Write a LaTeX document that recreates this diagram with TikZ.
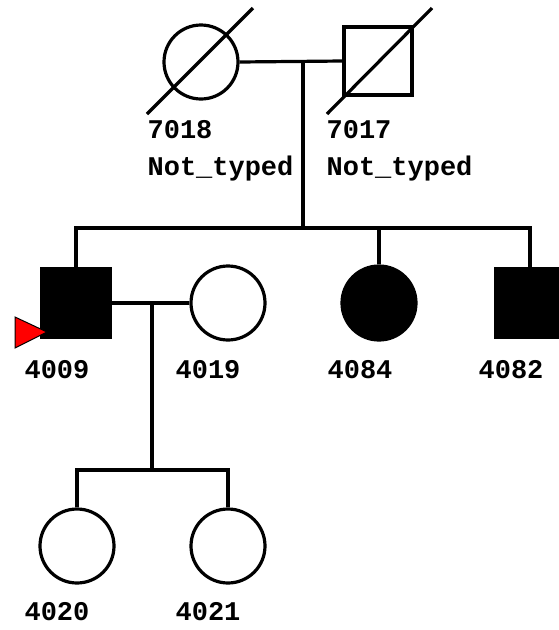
\documentclass[tikz,border=0pt]{standalone}
\usepackage{fontspec}
\setmonofont{Liberation Mono}
\begin{document}
\begin{tikzpicture}[x=1pt,y=-1pt,line width=3.2pt,
  female/.style={circle,draw=black,minimum size=74pt,inner sep=0pt},
  male/.style={rectangle,draw=black,minimum size=68pt,inner sep=0pt},
  affected/.style={fill=black},
  lbl/.style={anchor=base west,inner sep=0pt,font=\fontsize{27}{30}\selectfont\ttfamily\bfseries}]
\useasboundingbox (0,0) rectangle (559,630);
\clip (0,0) rectangle (559,630);
% generation I
\node[female] (n7018) at (201,62) {};
\node[male] (n7017) at (378,61) {};
\draw (147,114) -- (253,8);
\draw (327,114) -- (432,8);
\draw (n7018.east) -- (n7017.west);
\coordinate (m1) at (303,62);
\coordinate (s1) at (303,228);
\draw (m1) -- (s1);
% generation II
\node[male,affected] (n4009) at (76,303) {};
\node[female] (n4019) at (228,303) {};
\node[female,affected] (n4084) at (379,303) {};
\node[male,affected] (n4082) at (530,303) {};
\draw[miter limit=10] (n4009.north) -- (n4009.north |- s1) -- (n4082.north |- s1) -- (n4082.north);
\draw (n4084.north) -- (n4084.north |- s1);
\draw (n4009.east) -- (n4019.west);
% proband arrow
\draw[line width=1pt,fill=red] (15,317) -- (47,332) -- (15,348) -- cycle;
% generation III
\coordinate (m2) at (152,303);
\coordinate (s2) at (152,470);
\draw (m2) -- (s2);
\node[female] (n4020) at (77,546) {};
\node[female] (n4021) at (228,546) {};
\draw (n4020.north) -- (n4020.north |- s2) -- (n4021.north |- s2) -- (n4021.north);
% labels
\node[lbl] (l7018) at (146,138) {7018};
\node[lbl] (t7018) at (146,175) {Not\_typed};
\node[lbl] (l7017) at (325,138) {7017};
\node[lbl] (t7017) at (325,175) {Not\_typed};
\node[lbl] (l4009) at (23,378) {4009};
\node[lbl] (l4019) at (174,378) {4019};
\node[lbl] (l4084) at (326,378) {4084};
\node[lbl] (l4082) at (477,378) {4082};
\node[lbl] (l4020) at (23,620) {4020};
\node[lbl] (l4021) at (174,620) {4021};
\end{tikzpicture}
\end{document}
